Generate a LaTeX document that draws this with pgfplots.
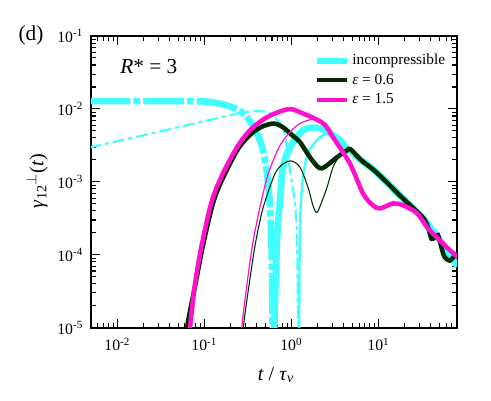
\documentclass[border=0pt]{standalone}
\usepackage{fontspec}
\setmainfont{Liberation Serif}
\usepackage{pgfplots}
\pgfplotsset{compat=1.18}
\definecolor{cyn}{RGB}{64,255,255}
\definecolor{dkg}{RGB}{0,45,0}
\definecolor{mgn}{RGB}{255,16,204}
\begin{document}
\begin{tikzpicture}
\useasboundingbox (0,0) rectangle (368.25pt,300pt);
\begin{axis}[
  at={(68.25pt,54.2pt)}, anchor=south west,
  scale only axis, width=274.5pt, height=218.8pt,
  xmode=log, ymode=log,
  xmin=0.005, xmax=80, ymin=1e-5, ymax=1e-1,
  clip mode=individual,
  xtick={0.01,0.1,1,10},
  xticklabels={10\textsuperscript{-2},10\textsuperscript{-1},10\textsuperscript{0},10\textsuperscript{1}},
  minor xtick={0.005,0.006,0.007,0.008,0.009,0.02,0.03,0.04,0.05,0.06,0.07,0.08,0.09,0.2,0.3,0.4,0.5,0.6,0.7,0.8,0.9,2,3,4,5,6,7,8,9,20,30,40,50,60,70,80},
  ytick={1e-5,1e-4,1e-3,1e-2,1e-1},
  yticklabels={10\textsuperscript{-5},10\textsuperscript{-4},10\textsuperscript{-3},10\textsuperscript{-2},10\textsuperscript{-1}},
  minor ytick={2e-5,3e-5,4e-5,5e-5,6e-5,7e-5,8e-5,9e-5,2e-4,3e-4,4e-4,5e-4,6e-4,7e-4,8e-4,9e-4,2e-3,3e-3,4e-3,5e-3,6e-3,7e-3,8e-3,9e-3,2e-2,3e-2,4e-2,5e-2,6e-2,7e-2,8e-2,9e-2},
  xtick pos=both, ytick pos=both,
  xticklabel pos=lower, yticklabel pos=left,
  tick align=inside,
  major tick length=6.75pt, minor tick length=3.75pt,
  every tick/.style={black, line width=0.8pt},
  axis line style={line width=1.3pt},
  ticklabel style={font=\fontsize{11.8}{13}\selectfont},
  xticklabel style={yshift=-4pt},
  yticklabel style={xshift=-2.5pt},
  xlabel={\textit{t} / \textit{τ}\textsubscript{\textit{ν}}},
  xlabel style={at={(axis description cs:0.505,-0.162)}, anchor=center, font=\fontsize{15}{17}\selectfont},
  ylabel={\textit{γ}\textsubscript{12}\textsuperscript{$\perp$}(\textit{t})},
  ylabel style={at={(axis description cs:-0.1475,0.503)}, anchor=center, font=\fontsize{15}{17}\selectfont},
  legend style={at={(axis description cs:0.975,0.95)}, anchor=north east, draw=none, fill=none,
    font=\fontsize{11.5}{13}\selectfont, row sep=0pt, inner sep=0pt,
    nodes={inner sep=1.8pt, text height=8.5pt, text depth=2.5pt}},
  legend cell align=left,
  legend image code/.code={\draw[#1] (0pt,0pt) -- (22.5pt,0pt);},
]
\addlegendimage{cyn, line width=4.5pt}
\addlegendentry{incompressible}
\addlegendimage{dkg, line width=3pt}
\addlegendentry{\textit{ε} = 0.6}
\addlegendimage{mgn, line width=3pt}
\addlegendentry{\textit{ε} = 1.5}

% incompressible, thick, positive part (dash-dot)
\addplot[cyn, line width=5pt, dash pattern=on 30.75pt off 2.25pt on 5pt off 2.25pt, smooth, forget plot] coordinates {
(4.786e-3,1.279e-2) (0.03162,1.279e-2) (0.08913,1.274e-2) (0.1413,1.202e-2) (0.2138,1.047e-2)
(0.2786,8.710e-3) (0.335,6.79e-3) (0.4036,4.677e-3) (0.4677,2.818e-3) (0.526,1.31e-3)
(0.569,4.467e-4) (0.596,1e-4) (0.610,1e-5) (0.614,1e-6)};
% incompressible, thick, negative part (solid)
\addplot[cyn, line width=5pt, smooth, forget plot] coordinates {
(0.624,1e-6) (0.638,1e-5) (0.684,1.57e-4) (0.7413,5.62e-4) (0.8017,1.585e-3) (0.966,2.98e-3)
(1.361,5.105e-3) (1.972,5.50e-3) (2.780,4.645e-3) (3.926,3.162e-3) (5.012,2.512e-3)
(6.310,1.995e-3) (8.913,1.445e-3) (12.59,9.772e-4) (17.78,6.457e-4) (25.12,4.365e-4)
(31.62,3.311e-4) (39.81,2.344e-4) (50.12,1.622e-4) (63.10,1.096e-4) (81.28,6.918e-5)};
% incompressible, thin, positive part (dash-dot)
\addplot[cyn, line width=1.6pt, dash pattern=on 9pt off 3pt on 3pt off 3pt, smooth, forget plot] coordinates {
(4.786e-3,2.944e-3) (0.03162,4.943e-3) (0.1,6.79e-3) (0.1995,8.20e-3) (0.2786,9.02e-3)
(0.4365,9.31e-3) (0.569,8.75e-3) (0.7413,6.37e-3) (0.8453,4.355e-3) (0.966,1.439e-3)
(1.102,5.06e-4) (1.161,1.726e-4) (1.194,1e-5) (1.202,1e-6)};
% incompressible, thin, negative part (solid)
\addplot[cyn, line width=1.8pt, smooth, forget plot] coordinates {
(1.216,1e-6) (1.230,1e-5) (1.259,2.692e-4) (1.361,1.153e-3) (1.556,2.466e-3) (1.871,3.491e-3)
(2.312,4.355e-3) (3.013,4.645e-3) (3.926,3.715e-3) (5.012,2.512e-3) (6.310,1.995e-3)};

% eps = 0.6 thick
\addplot[dkg, line width=3.4pt, smooth, forget plot] coordinates {
(0.05623,2.512e-6) (0.06339,1e-5) (0.07943,4.027e-5) (0.09772,1.429e-4) (0.1288,5.572e-4)
(0.1738,1.31e-3) (0.2512,2.979e-3) (0.3548,4.677e-3) (0.4677,5.754e-3) (0.631,6.310e-3)
(0.8017,5.610e-3) (1.0,4.467e-3) (1.259,3.491e-3) (1.637,2.173e-3) (1.995,1.622e-3)
(2.239,1.531e-3) (2.570,1.687e-3) (3.350,2.173e-3) (4.365,2.710e-3) (4.786,2.799e-3)
(6.310,1.995e-3) (8.913,1.445e-3) (12.59,9.772e-4) (17.78,6.457e-4) (25.12,4.365e-4)
(30.20,3.548e-4) (33.88,3.020e-4) (37.15,2.399e-4) (40.74,1.660e-4) (44.16,1.738e-4)
(48.42,1.862e-4) (52.48,1.318e-4) (57.54,9.333e-5) (66.07,8.318e-5) (74.13,9.550e-5)
(81.28,1.047e-4)};
% eps = 0.6 thin
\addplot[dkg, line width=0.8pt, smooth, forget plot] coordinates {
(0.2570,2.512e-6) (0.2805,1e-5) (0.3412,5.470e-5) (0.3926,1.570e-4) (0.4764,4.508e-4)
(0.6501,1.297e-3) (0.8128,1.778e-3) (1.009,1.932e-3) (1.259,1.585e-3) (1.556,8.395e-4)
(1.778,4.677e-4) (1.972,3.802e-4) (2.239,5.370e-4) (2.570,8.395e-4) (3.013,1.585e-3)
(3.622,2.312e-3) (4.365,2.710e-3) (4.786,2.799e-3)};

% eps = 1.5 thick
\addplot[mgn, line width=3.4pt, smooth, forget plot] coordinates {
(0.06026,2.512e-6) (0.06855,1e-5) (0.07834,4.027e-5) (0.09419,1.429e-4) (0.1227,5.572e-4)
(0.1641,1.31e-3) (0.2377,2.979e-3) (0.335,5.105e-3) (0.526,7.709e-3) (0.9162,9.931e-3)
(1.259,9.016e-3) (2.312,6.368e-3) (3.013,4.093e-3) (4.721,1.778e-3) (6.653,6.950e-4)
(8.670,4.753e-4) (10.45,4.325e-4) (14.72,5.058e-4) (19.19,4.786e-4) (27.73,3.715e-4)
(36.14,2.399e-4) (47.10,1.726e-4) (61.38,1.259e-4) (81.28,9.333e-5)};
% eps = 1.5 thin
\addplot[mgn, line width=0.9pt, smooth, forget plot] coordinates {
(0.2455,2.512e-6) (0.2692,1e-5) (0.3206,5.470e-5) (0.3656,1.570e-4) (0.4365,4.508e-4)
(0.5433,1.297e-3) (0.7413,3.162e-3) (1.0,5.012e-3) (1.259,6.310e-3) (1.774,7.228e-3)
(2.312,6.368e-3)};

\node at (axis description cs:0.158,0.894) {\fontsize{16}{18}\selectfont\textit{R}* = 3};
\node at (axis description cs:-0.164,1.003) {\fontsize{16}{18}\selectfont (d)};
\end{axis}
\end{tikzpicture}
\end{document}
